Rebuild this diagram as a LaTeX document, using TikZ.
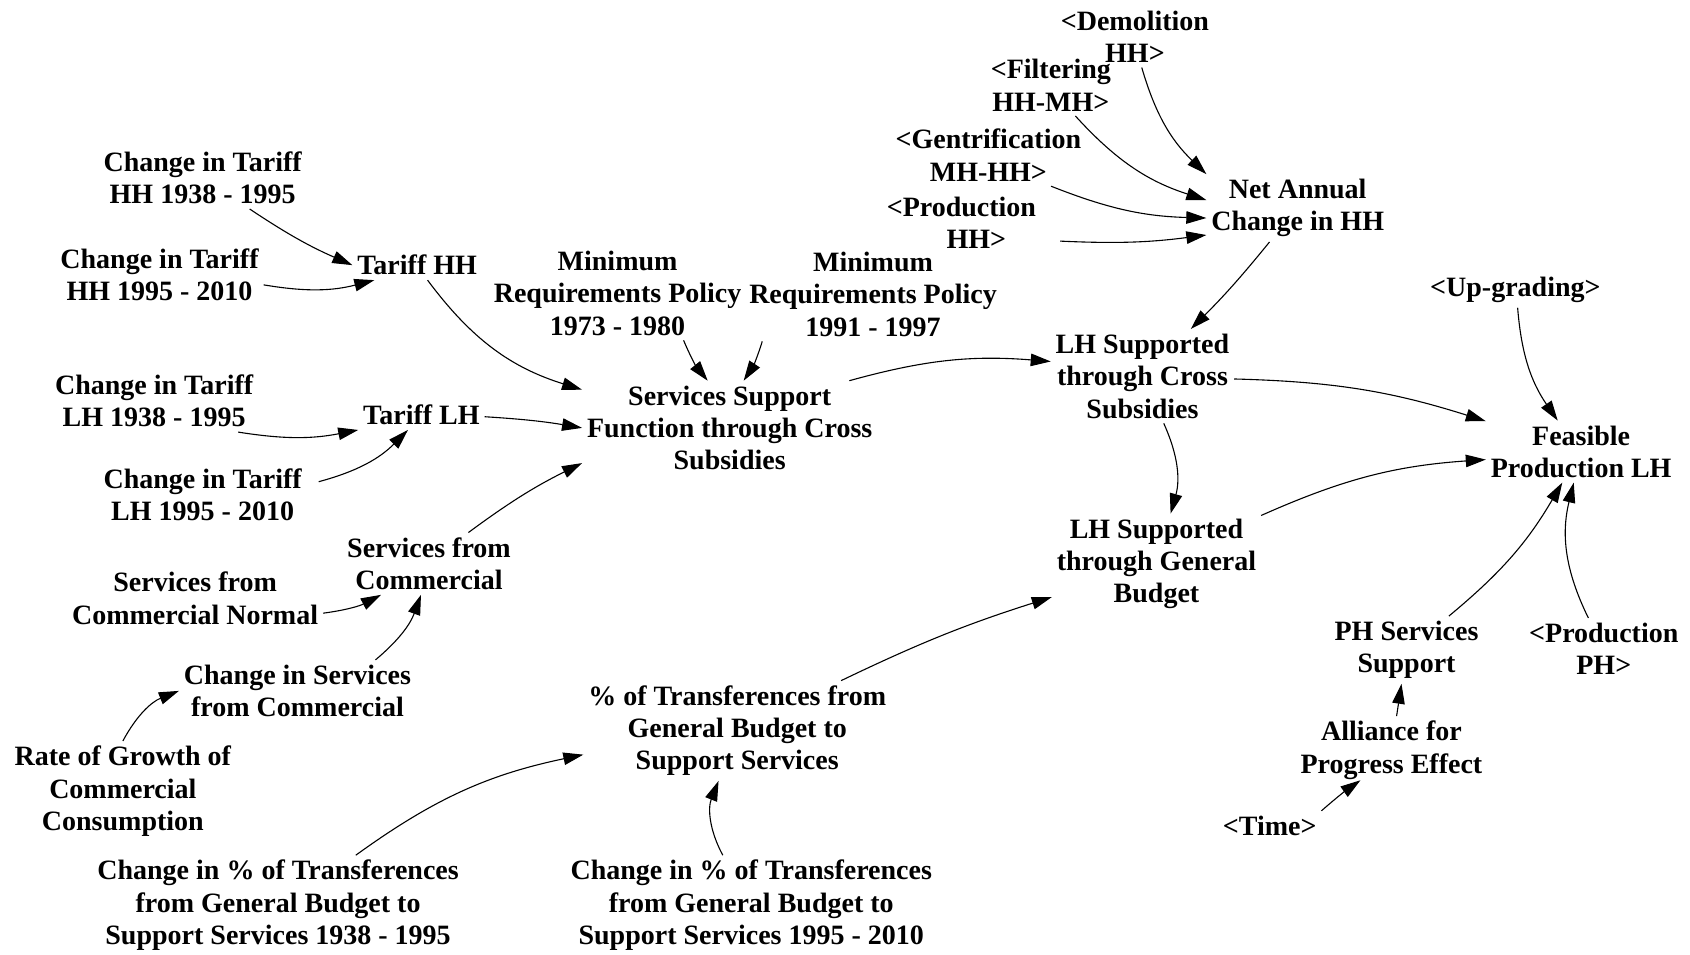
\documentclass[tikz,border=0pt]{standalone}
\usepackage{fontspec}
\setmainfont{Liberation Serif}
\usetikzlibrary{arrows.meta}
\begin{document}
\begin{tikzpicture}[x=1.0778pt,y=-1.0778pt,
  v/.style={font=\fontsize{28}{32.3}\selectfont\bfseries, align=center, inner sep=3pt, outer sep=2pt},
  ar/.style={-{Triangle[length=20pt,width=12.5pt]}, line width=1.1pt},
]
\useasboundingbox[fill=white] (0,0) rectangle (1568,886);

% left block
\node[v] (cthh38) at (188,165) {Change in Tariff\\HH 1938 - 1995};
\node[v] (cthh95) at (148,255) {Change in Tariff\\HH 1995 - 2010};
\node[v] (thh) at (387,246) {Tariff HH};
\node[v] (ctlh38) at (143,372) {Change in Tariff\\LH 1938 - 1995};
\node[v] (tlh) at (391,385) {Tariff LH};
\node[v] (ctlh95) at (188,459) {Change in Tariff\\LH 1995 - 2010};
\node[v] (min73) at (573,272) {Minimum\\Requirements Policy\\1973 - 1980};
\node[v] (min91) at (810,273) {Minimum\\Requirements Policy\\1991 - 1997};
\node[v] (ssf) at (677,397) {Services Support\\Function through Cross\\Subsidies};
\node[v] (sfc) at (398,523) {Services from\\Commercial};
\node[v] (sfcn) at (181,555) {Services from\\Commercial Normal};
\node[v] (cisc) at (276,641) {Change in Services\\from Commercial};
\node[v] (rgcc) at (114,734) {Rate of Growth of\\Commercial\\Consumption};
\node[v] (ptgb) at (684,678) {\% of Transferences from\\General Budget to\\Support Services};
\node[v] (ct38) at (258,840) {Change in \% of Transferences\\from General Budget to\\Support Services 1938 - 1995};
\node[v] (ct95) at (697,840) {Change in \% of Transferences\\from General Budget to\\Support Services 1995 - 2010};

% right block
\node[v] (dem) at (1053,34) {<Demolition\\HH>};
\node[v] (fil) at (975,79) {<Filtering\\HH-MH>};
\node[v] (gen) at (917,144) {<Gentrification\\MH-HH>};
\node[v] (phh) at (892,207) {<Production\\\hspace*{30pt}HH>};
\node[v] (nac) at (1204,193) {Net Annual\\Change in HH};
\node[v] (lhc) at (1060,349) {LH Supported\\through Cross\\Subsidies};
\node[v] (lhg) at (1073,523) {LH Supported\\through General\\Budget};
\node[v] (upg) at (1406,269) {<Up-grading>};
\node[v] (fpl) at (1467,419) {Feasible\\Production LH};
\node[v] (phs) at (1305,603) {PH Services\\Support};
\node[v] (pph) at (1488,602) {<Production\\PH>};
\node[v] (afp) at (1291,696) {Alliance for\\Progress Effect};
\node[v] (tim) at (1178,766) {<Time>};

% connectors
\draw[ar] ([xshift=47pt]cthh38.south) to[bend right=5] (thh.west);
\draw[ar] ([yshift=-10pt]cthh95.east) to[bend right=12] (thh);
\draw[ar] (thh) to[bend right=18] ([yshift=-9pt]ssf.north west);
\draw[ar] ([xshift=-20pt]ctlh38.south east) to[bend right=10] (tlh.south west);
\draw[ar] ([xshift=12pt,yshift=13pt]ctlh95.east) to[bend right=15] (tlh);
\draw[ar] (tlh) to[bend left=3] (ssf.west);
\draw[ar] (sfc) to[bend left=5] ([yshift=12pt]ssf.south west);
\draw[ar] ([yshift=-15pt]sfcn.east) to[bend right=10] ([xshift=-48pt]sfc.south);
\draw[ar] ([xshift=78pt]cisc.north) to[bend right=15] ([xshift=-8pt]sfc.south);
\draw[ar] (rgcc.north) to[bend left=20] (cisc.west);
\draw[ar] ([xshift=66pt]min73.south) to[bend right=8] ([xshift=-22pt]ssf.north);
\draw[ar] ([xshift=18pt]min91.south west) to[bend left=8] ([xshift=14pt]ssf.north);
\draw[ar] ([xshift=-28pt]ssf.north east) to[bend left=10] (lhc);
\draw[ar] (nac) to[bend left=3] (lhc);
\draw[ar] (dem) to[bend right=15] (nac.north west);
\draw[ar] (fil) to[bend right=15] ([yshift=8pt]nac.west);
\draw[ar] ([xshift=-35pt]gen.south east) to[bend right=10] ([yshift=-10pt]nac.west);
\draw[ar] ([xshift=19pt,yshift=-18pt]phh.east) to[bend right=5] ([yshift=-27pt]nac.west);
\draw[ar] (lhc) to[bend left=8] (fpl);
\draw[ar] (lhc) to[bend left=20] (lhg);
\draw[ar] (lhg) to[bend left=10] (fpl);
\draw[ar] (ptgb) to[bend left=4] (lhg);
\draw[ar] (ct38) to[bend left=12] (ptgb);
\draw[ar] (ct95) to[bend left=25] (ptgb);
\draw[ar] (upg) to[bend right=15] (fpl);
\draw[ar] (phs) to[bend right=10] (fpl);
\draw[ar] (pph) to[bend left=20] (fpl);
\draw[ar] (afp) -- (phs);
\draw[ar] (tim.north east) to[bend left=3] ([xshift=-31pt,yshift=4pt]afp.south);
\end{tikzpicture}
\end{document}
